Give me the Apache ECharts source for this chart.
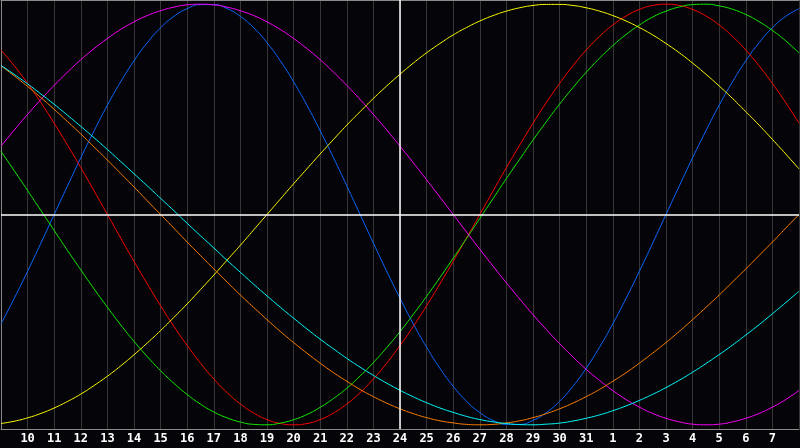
<!DOCTYPE html>
<html>
<head>
<meta charset="utf-8">
<script src="https://cdn.jsdelivr.net/npm/echarts@6/dist/echarts.min.js"></script>
<style>
html,body{margin:0;padding:0;background:#050409;}
#chart{width:800px;height:448px;}
</style>
</head>
<body>
<div id="chart"></div>
<script>
// Day tick labels (one per vertical grid line)
const days = ['9','10','11','12','13','14','15','16','17','18','19','20','21','22','23','24','25','26','27','28','29','30','31','1','2','3','4','5','6','7','8'];
// Samples are read every half day, starting at the first grid line
const stepDays = 0.5;

const blueVals = [-52.0,-39.8,-27.0,-13.6,0,13.6,27.0,39.8,52.0,63.1,73.1,81.7,88.8,94.2,97.9,99.8,99.8,97.9,94.2,88.8,81.7,73.1,63.1,52.0,39.8,27.0,13.6,0,-13.6,-27.0,-39.8,-52.0,-63.1,-73.1,-81.7,-88.8,-94.2,-97.9,-99.8,-99.8,-97.9,-94.2,-88.8,-81.7,-73.1,-63.1,-52.0,-39.8,-27.0,-13.6,0,13.6,27.0,39.8,52.0,63.1,73.1,81.7,88.8,94.2,97.9];
const redVals = [78.2,70.7,62.3,53.2,43.4,33.0,22.3,11.2,0,-11.2,-22.3,-33.0,-43.4,-53.2,-62.3,-70.7,-78.2,-84.7,-90.1,-94.4,-97.5,-99.4,-100,-99.4,-97.5,-94.4,-90.1,-84.7,-78.2,-70.7,-62.3,-53.2,-43.4,-33.0,-22.3,-11.2,0,11.2,22.3,33.0,43.4,53.2,62.3,70.7,78.2,84.7,90.1,94.4,97.5,99.4,100,99.4,97.5,94.4,90.1,84.7,78.2,70.7,62.3,53.2,43.4];
const greenVals = [30.0,20.8,11.4,1.9,-7.6,-17.1,-26.3,-35.4,-44.1,-52.5,-60.3,-67.6,-74.3,-80.3,-85.6,-90.2,-93.9,-96.7,-98.7,-99.8,-100,-99.2,-97.6,-95.1,-91.7,-87.5,-82.6,-76.8,-70.4,-63.3,-55.7,-47.5,-38.9,-30.0,-20.8,-11.4,-1.9,7.6,17.1,26.3,35.4,44.1,52.5,60.3,67.6,74.3,80.3,85.6,90.1,93.9,96.7,98.7,99.8,100,99.2,97.6,95.1,91.7,87.5,82.6,76.8];
const magentaVals = [32.5,40.2,47.6,54.7,61.4,67.7,73.6,78.9,83.7,88.0,91.6,94.6,96.9,98.6,99.7,100,99.7,98.6,96.9,94.6,91.6,88.0,83.7,78.9,73.6,67.7,61.4,54.7,47.6,40.2,32.5,24.6,16.5,8.3,0,-8.3,-16.5,-24.6,-32.5,-40.2,-47.6,-54.7,-61.4,-67.7,-73.6,-78.9,-83.7,-88.0,-91.6,-94.6,-96.9,-98.6,-99.7,-100,-99.7,-98.6,-96.9,-94.6,-91.6,-88.0,-83.7];
const yellowVals = [-99.4,-98.3,-96.7,-94.6,-92.0,-88.9,-85.4,-81.3,-76.9,-72.0,-66.7,-61.1,-55.2,-48.9,-42.5,-35.7,-28.8,-21.7,-14.6,-7.3,0,7.3,14.6,21.7,28.8,35.7,42.5,48.9,55.2,61.1,66.7,72.0,76.9,81.3,85.4,88.9,92.0,94.6,96.7,98.3,99.4,99.9,99.9,99.4,98.3,96.7,94.6,92.0,88.9,85.4,81.3,76.9,72.0,66.7,61.1,55.2,48.9,42.5,35.7,28.8,21.7];
const orangeVals = [70.7,65.9,60.9,55.6,50.0,44.2,38.3,32.1,25.9,19.5,13.1,6.5,0,-6.5,-13.1,-19.5,-25.9,-32.1,-38.3,-44.2,-50.0,-55.6,-60.9,-65.9,-70.7,-75.2,-79.3,-83.2,-86.6,-89.7,-92.4,-94.7,-96.6,-98.1,-99.1,-99.8,-100,-99.8,-99.1,-98.1,-96.6,-94.7,-92.4,-89.7,-86.6,-83.2,-79.3,-75.2,-70.7,-65.9,-60.9,-55.6,-50.0,-44.2,-38.3,-32.1,-25.9,-19.5,-13.1,-6.5,0];
const cyanVals = [70.9,66.6,62.1,57.3,52.4,47.2,41.9,36.5,30.9,25.2,19.4,13.6,7.7,1.8,-4.2,-10.1,-15.9,-21.8,-27.5,-33.2,-38.7,-44.1,-49.3,-54.4,-59.3,-63.9,-68.4,-72.6,-76.5,-80.2,-83.6,-86.7,-89.5,-92.0,-94.1,-96.0,-97.5,-98.6,-99.4,-99.9,-100,-99.7,-99.2,-98.2,-96.9,-95.3,-93.3,-91.0,-88.4,-85.5,-82.3,-78.8,-75.0,-70.9,-66.6,-62.1,-57.3,-52.4,-47.2,-41.9,-36.5];

const seriesNames = ['Blue','Red','Green','Magenta','Yellow','Orange','Cyan'];
const seriesColors = ['#0a66ff','#ff0000','#11ee00','#ff00ff','#ffff00','#ff8000','#00ffff'];
const seriesData = [blueVals, redVals, greenVals, magentaVals, yellowVals, orangeVals, cyanVals];

const lastIdx = days.length - 1;
const centerIdx = days.indexOf('24');

const chart = echarts.init(document.getElementById('chart'));
const series = seriesData.map((d, i) => ({
  name: seriesNames[i],
  type: 'line',
  data: d.map((v, k) => [k * stepDays, v]),
  smooth: 0.5,
  symbol: 'none',
  lineStyle: { color: seriesColors[i], width: 1 },
  itemStyle: { color: seriesColors[i] },
  z: 3
}));
series.push({
  type: 'line',
  data: [],
  markLine: {
    silent: true,
    symbol: 'none',
    label: { show: false },
    lineStyle: { color: '#ffffff', width: 1.5, type: 'solid' },
    data: [{ xAxis: centerIdx }, { yAxis: 0 }]
  },
  z: 2
});

chart.setOption({
  backgroundColor: '#050409',
  animation: false,
  grid: { left: 1, right: 1, top: 0, bottom: 19, containLabel: false, outerBoundsMode: 'none' },
  xAxis: [{
    type: 'value',
    min: 0,
    max: lastIdx,
    interval: 1,
    axisLine: { show: true, onZero: false, lineStyle: { color: '#8a8a8a', width: 1 } },
    axisTick: { show: false },
    axisLabel: {
      color: '#ffffff',
      fontFamily: 'DejaVu Sans Mono',
      fontWeight: 'bold',
      fontSize: 12,
      margin: 4,
      showMinLabel: false,
      showMaxLabel: false,
      formatter: (v) => (v > 0 && v < lastIdx) ? days[v] : ''
    },
    splitLine: { show: true, lineStyle: { color: '#363636', width: 1 } }
  }, {
    type: 'value',
    min: 0,
    max: lastIdx,
    interval: 1,
    position: 'top',
    axisLine: { show: true, onZero: false, lineStyle: { color: '#8a8a8a', width: 1 } },
    axisTick: { show: false },
    axisLabel: { show: false },
    splitLine: { show: false }
  }],
  yAxis: {
    type: 'value',
    min: -102,
    max: 102,
    axisLine: { show: true, onZero: false, lineStyle: { color: '#8a8a8a', width: 1 } },
    axisTick: { show: false },
    axisLabel: { show: false },
    splitLine: { show: false }
  },
  series: series
});
</script>
</body>
</html>
